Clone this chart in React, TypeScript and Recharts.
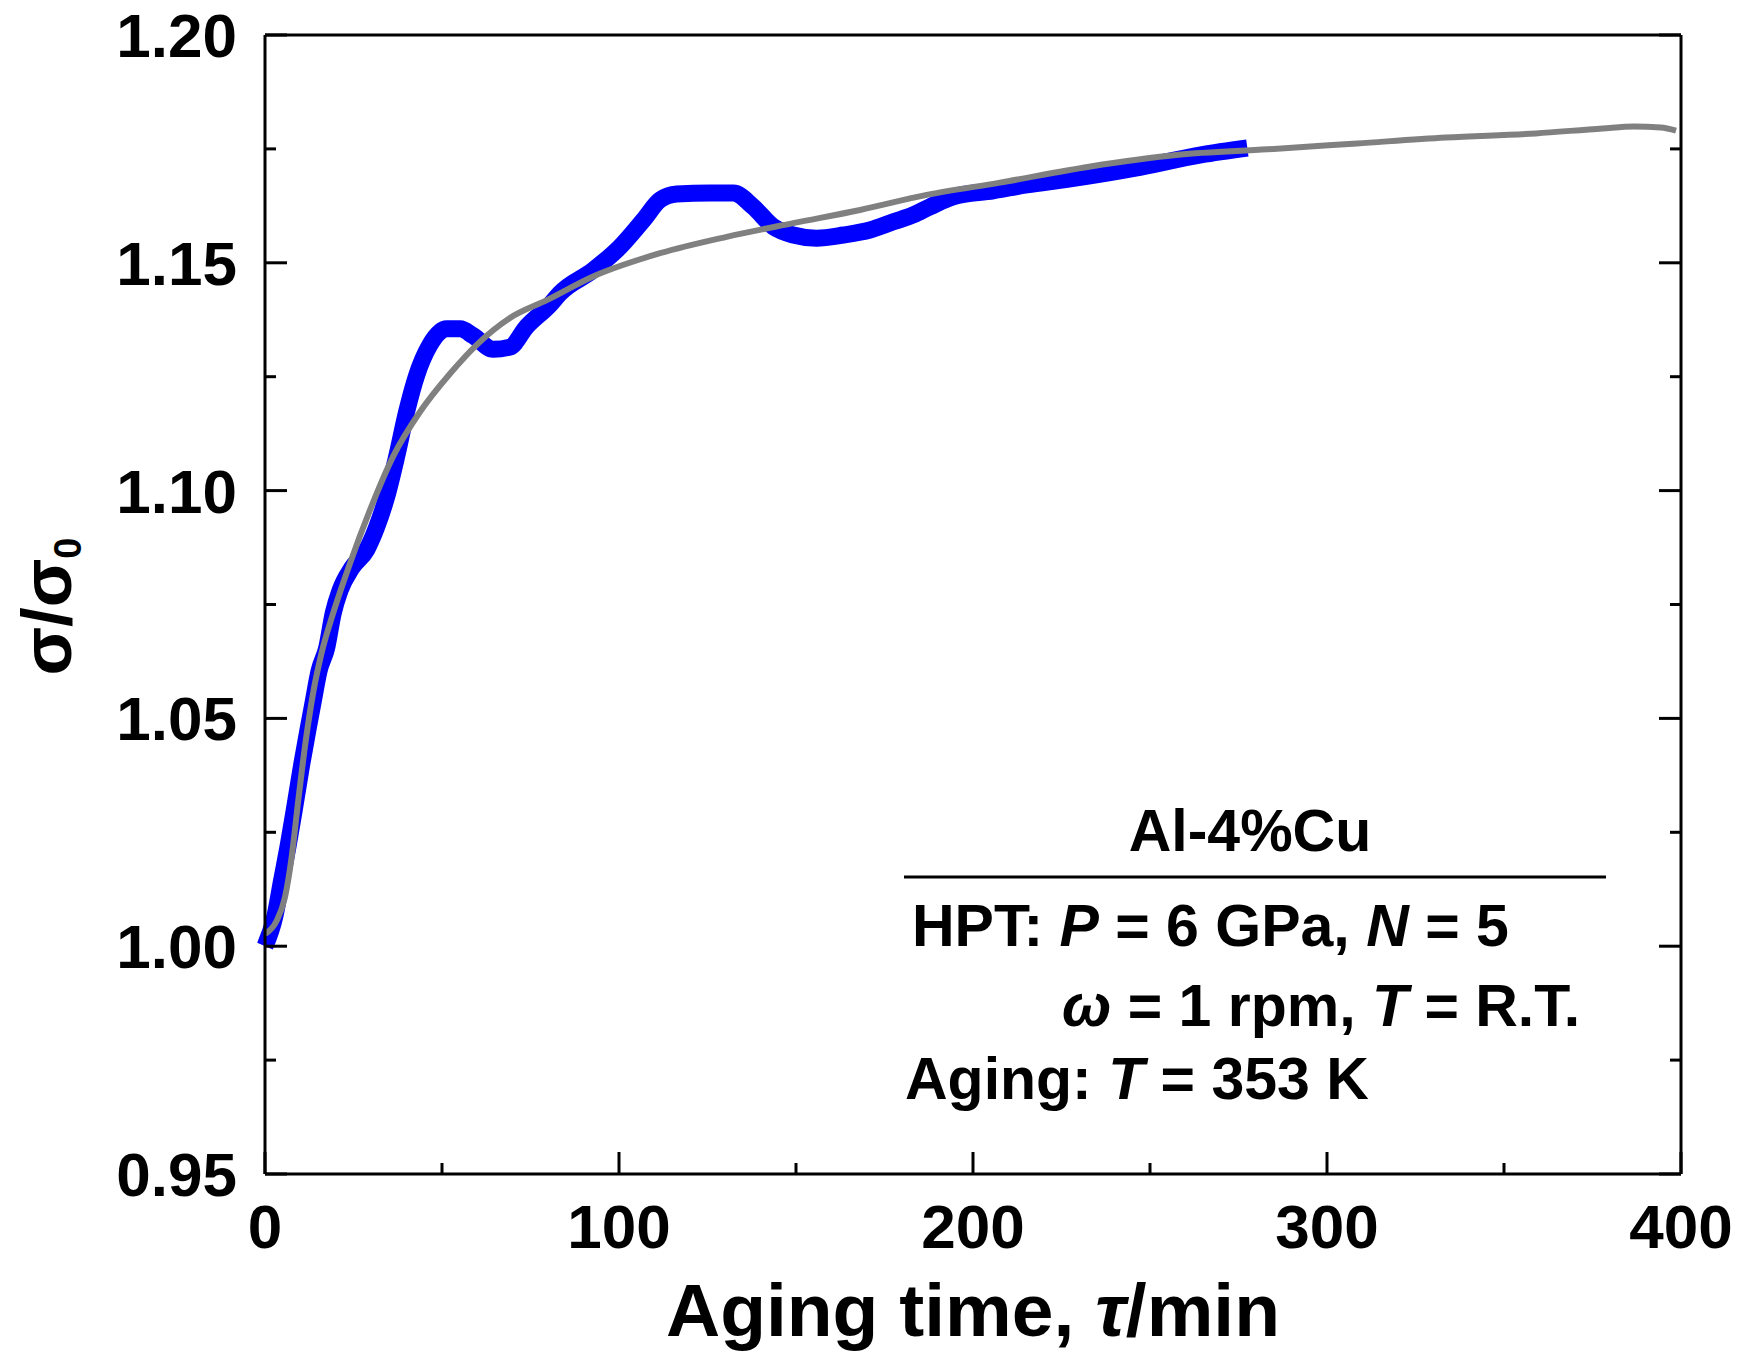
import React from "react";
import { LineChart, Line, XAxis, YAxis, Label } from "recharts";

// blue measured curve (aging time in min, sigma/sigma0)
const measTime = [
  0, 2.8, 4.7, 6.6, 8.5, 10.4, 12.2, 13.6, 15.3, 17.4, 19.3, 21.2, 24.5, 28.7, 31.5, 34.4, 37.2, 40,
  42.8, 46.6, 51.3, 55.1, 58.8, 64.5, 69.2, 73.9, 80.5, 83.3, 92.7, 100.3, 106.9, 111.6, 116.3,
  125.7, 132.3, 137.9, 143.6, 149.2, 155.8, 163.4, 170.9, 177.5, 183.1, 187.9, 194.4, 205.7,
  215.2, 226.6, 245.5, 264.4, 277.5,
];
const measRatio = [
  1.0, 1.0066, 1.0145, 1.0223, 1.031, 1.04, 1.0478, 1.0536, 1.0605, 1.0654, 1.0732, 1.0781, 1.083,
  1.087, 1.0919, 1.0987, 1.1075, 1.1173, 1.1252, 1.132, 1.1355, 1.1355, 1.134, 1.131, 1.1315, 1.136,
  1.1408, 1.1433, 1.1484, 1.1535, 1.1594, 1.1638, 1.1651, 1.1653, 1.1653, 1.1623, 1.1579, 1.1561,
  1.1554, 1.1561, 1.1572, 1.159, 1.1605, 1.1623, 1.1645, 1.1658, 1.1671, 1.1683, 1.1707, 1.1737,
  1.1752,
];

// grey fitted curve
const fitTime = [
  0, 3.3, 5.6, 7.5, 9.4, 11.3, 13.6, 16, 19.3, 24, 29.7, 36.2, 43.8, 52.3, 59.8, 69.2, 79.6, 92.7,
  111.6, 130.4, 149.2, 168.1, 186.9, 207.6, 232.8, 258, 283.3, 308.5, 333.6, 359, 377.9, 386.7,
  394.3, 398.6,
];
const fitRatio = [
  1.0027, 1.0056, 1.0106, 1.0194, 1.032, 1.0439, 1.0556, 1.0644, 1.0732, 1.084, 1.0958, 1.1075,
  1.1173, 1.1257, 1.132, 1.1379, 1.1418, 1.147, 1.1521, 1.1557, 1.1587, 1.1616, 1.1649, 1.1676,
  1.1711, 1.1737, 1.1749, 1.1762, 1.1775, 1.1784, 1.1795, 1.1799, 1.1797, 1.179,
];

const xTicks = [0, 50, 100, 150, 200, 250, 300, 350, 400];
const yTicks = [0.95, 0.975, 1.0, 1.025, 1.05, 1.075, 1.1, 1.125, 1.15, 1.175, 1.2];

const measData = measTime.map((t, i) => ({ t, v: measRatio[i] }));
const fitData = fitTime.map((t, i) => ({ t, v: fitRatio[i] }));

const FONT = '"Liberation Sans", Arial, sans-serif';
const MAJOR = 22;
const MINOR = 11;

const isMajorY = (v: number) => Math.abs(v * 20 - Math.round(v * 20)) < 1e-6;

function YTick(props: any) {
  const { x, y, payload, side } = props;
  const v = payload.value;
  const major = isMajorY(v);
  const dir = side === "left" ? 1 : -1;
  return (
    <g>
      <line x1={x} y1={y} x2={x + dir * (major ? MAJOR : MINOR)} y2={y} stroke="#000" strokeWidth={3} />
      {side === "left" && major && (
        <text x={x - 28} y={y + 22} textAnchor="end" fontFamily={FONT} fontWeight="bold" fontSize={62} fill="#000">
          {v.toFixed(2)}
        </text>
      )}
    </g>
  );
}

function XTick(props: any) {
  const { x, y, payload, side } = props;
  const v = payload.value;
  const major = v % 100 === 0;
  const dir = side === "bottom" ? -1 : 1;
  return (
    <g>
      <line x1={x} y1={y} x2={x} y2={y + dir * (major ? MAJOR : MINOR)} stroke="#000" strokeWidth={3} />
      {side === "bottom" && major && (
        <text x={x} y={y + 74} textAnchor="middle" fontFamily={FONT} fontWeight="bold" fontSize={62} fill="#000">
          {v}
        </text>
      )}
    </g>
  );
}

export default function App() {
  const axisLine = { stroke: "#000", strokeWidth: 3 };
  return (
    <div style={{ position: "absolute", left: 0, top: 0, width: 1744, height: 1356, background: "#fff" }}>
      <LineChart width={1744} height={1356} margin={{ top: 0, right: 0, bottom: 0, left: 0 }}>
        <XAxis
          xAxisId="b"
          type="number"
          dataKey="t"
          domain={[0, 400]}
          ticks={xTicks}
          interval={0}
          height={182}
          tickSize={0}
          tickMargin={0}
          axisLine={axisLine}
          tickLine={false}
          tick={(p: any) => <XTick {...p} side="bottom" />}
        >
          <Label
            content={(p: any) => {
              const vb = p.viewBox;
              return (
                <text x={vb.x + vb.width / 2} y={vb.y + 162} textAnchor="middle" fontFamily={FONT} fontWeight="bold" fontSize={75} fill="#000">
                  Aging time, <tspan fontStyle="italic">τ</tspan>/min
                </text>
              );
            }}
          />
        </XAxis>
        <XAxis
          xAxisId="top"
          orientation="top"
          type="number"
          domain={[0, 400]}
          ticks={xTicks}
          interval={0}
          height={35}
          tickSize={0}
          tickMargin={0}
          axisLine={axisLine}
          tickLine={false}
          tick={(p: any) => <XTick {...p} side="top" />}
        />
        <YAxis
          yAxisId="l"
          type="number"
          domain={[0.95, 1.2]}
          ticks={yTicks}
          interval={0}
          width={265}
          tickSize={0}
          tickMargin={0}
          axisLine={axisLine}
          tickLine={false}
          allowDataOverflow
          tick={(p: any) => <YTick {...p} side="left" />}
        >
          <Label
            content={(p: any) => {
              const vb = p.viewBox;
              const cy = vb.y + vb.height / 2 + 2;
              return (
                <text x={71} y={cy} transform={`rotate(-90, 71, ${cy})`} textAnchor="middle" fontFamily={FONT} fontWeight="bold" fontSize={71} fill="#000">
                  σ/σ<tspan fontSize={38} dy={10}>0</tspan>
                </text>
              );
            }}
          />
        </YAxis>
        <YAxis
          yAxisId="r"
          orientation="right"
          type="number"
          domain={[0.95, 1.2]}
          ticks={yTicks}
          interval={0}
          width={63}
          tickSize={0}
          tickMargin={0}
          axisLine={axisLine}
          tickLine={false}
          allowDataOverflow
          tick={(p: any) => <YTick {...p} side="right" />}
        />
        <Line
          xAxisId="b"
          yAxisId="l"
          data={measData}
          dataKey="v"
          type="monotone"
          stroke="#0000FF"
          strokeWidth={17}
          dot={false}
          isAnimationActive={false}
        />
        <Line
          xAxisId="b"
          yAxisId="l"
          data={fitData}
          dataKey="v"
          type="monotone"
          stroke="#808080"
          strokeWidth={6}
          dot={false}
          isAnimationActive={false}
        />
      </LineChart>
      <svg
        width={1744}
        height={1356}
        style={{ position: "absolute", left: 0, top: 0, pointerEvents: "none" }}
        fontFamily={FONT}
        fontWeight="bold"
        fontSize={59}
        fill="#000"
      >
        <text x={1250} y={851} textAnchor="middle">Al-4%Cu</text>
        <line x1={904} y1={877} x2={1606} y2={877} stroke="#000" strokeWidth={3} />
        <text x={912} y={946}>
          HPT: <tspan fontStyle="italic">P</tspan> = 6 GPa, <tspan fontStyle="italic">N</tspan> = 5
        </text>
        <text x={1062} y={1026}>
          <tspan fontStyle="italic">ω</tspan> = 1 rpm, <tspan fontStyle="italic">T</tspan> = R.T.
        </text>
        <text x={905} y={1099}>
          Aging: <tspan fontStyle="italic">T</tspan> = 353 K
        </text>
      </svg>
    </div>
  );
}
